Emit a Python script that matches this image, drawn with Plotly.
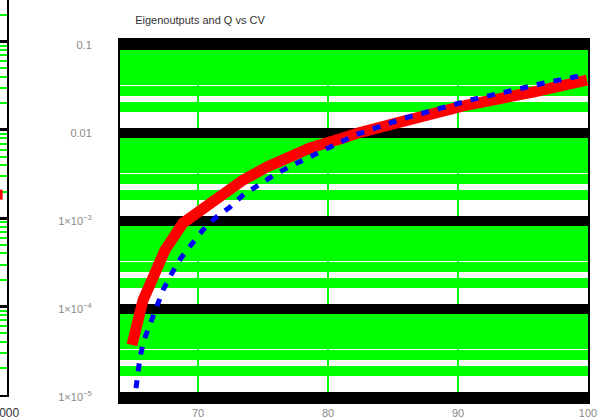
import plotly.graph_objects as go

# ---- data ----
red_x = [64.92, 65.77, 66.46, 67.46, 68.85, 70.15, 70.92, 73.46, 75.31, 76.85,
         78.62, 81.15, 82.31, 85.54, 90.69, 95.77, 99.92]
red_y = [3.9e-5, 1.26e-4, 2.14e-4, 4.68e-4, 9.5e-4, 1.33e-3, 1.64e-3, 2.92e-3,
         4.11e-3, 5.34e-3, 6.76e-3, 8.77e-3, 1.00e-2, 1.33e-2, 2.08e-2, 2.92e-2, 4.0e-2]

blue_x = [65.23, 65.54, 65.85, 66.31, 66.77, 67.31, 68.0, 68.69, 69.46, 70.38,
          71.31, 72.46, 73.46, 74.62, 75.85, 77.0, 78.31, 79.54, 80.77, 82.08,
          85.92, 88.62, 91.23, 94.0, 96.62, 99.38]
blue_y = [1.26e-5, 2.85e-5, 4.45e-5, 6.9e-5, 1.05e-4, 1.64e-4, 2.57e-4, 3.8e-4,
          5.33e-4, 7.9e-4, 1.08e-3, 1.44e-3, 1.97e-3, 2.56e-3, 3.33e-3, 4.11e-3,
          5.07e-3, 6.24e-3, 7.69e-3, 9.49e-3, 1.48e-2, 1.92e-2, 2.43e-2, 3.0e-2,
          3.7e-2, 4.45e-2]

side_x = [0, 450]
side_y = [1.85e-3, 1.85e-3]

x_ticks = [70, 80, 90, 100]
x_ticktext = ["70", "80", "90", "100"]
y_ticks = [1e-1, 1e-2, 1e-3, 1e-4, 1e-5]
y_ticktext = ["0.1", "0.01", "1×10<sup>−3</sup>", "1×10<sup>−4</sup>", "1×10<sup>−5</sup>"]
side_x_ticks = [1000]
side_x_ticktext = ["1000"]
title_text = "Eigenoutputs and Q vs CV"

minor_vals = [m * 10 ** e for e in range(-6, 1) for m in range(2, 10)]

FONT = "Liberation Sans Narrow, Liberation Sans, Arial, sans-serif"

fig = go.Figure()
fig.add_trace(go.Scatter(x=red_x, y=red_y, mode="lines",
                         line=dict(color="#ff0000", width=11),
                         xaxis="x", yaxis="y", showlegend=False))
fig.add_trace(go.Scatter(x=blue_x, y=blue_y, mode="lines",
                         line=dict(color="#0000ff", width=5, dash="8px,9px"),
                         xaxis="x", yaxis="y", showlegend=False))
fig.add_trace(go.Scatter(x=side_x, y=side_y, mode="lines",
                         line=dict(color="#ff0000", width=10),
                         xaxis="x2", yaxis="y2", showlegend=False))

fig.update_layout(
    width=602, height=420,
    margin=dict(l=0, r=14, t=0, b=18),
    paper_bgcolor="white", plot_bgcolor="white",
    showlegend=False,
    title=dict(text=title_text, x=200 / 602, xanchor="center",
               y=1 - 20 / 420, yanchor="middle",
               font=dict(family=FONT, size=11, color="#333333")),
    xaxis=dict(domain=[120 / 588, 1], range=[64, 100], anchor="y",
               tickmode="array", tickvals=x_ticks, ticktext=x_ticktext,
               showgrid=True, gridcolor="#00ff00", gridwidth=2,
               showline=True, linecolor="black", linewidth=2, mirror=True,
               zeroline=False, ticks="", automargin=False,
               tickfont=dict(family=FONT, size=11, color="#888888")),
    yaxis=dict(domain=[0, 1 - 40 / 402], type="log",
               range=[-1 + 5 / 88 - 362 / 88, -1 + 5 / 88], anchor="x",
               tickmode="array", tickvals=y_ticks, ticktext=y_ticktext,
               showgrid=True, gridcolor="black", gridwidth=10,
               minor=dict(tickmode="array", tickvals=minor_vals, showgrid=True,
                          gridcolor="#00ff00", gridwidth=10, ticks=""),
               showline=True, linecolor="black", linewidth=2, mirror=True,
               zeroline=False, ticks="", automargin=False,
               ticklabelstandoff=24,
               tickfont=dict(family=FONT, size=11, color="#888888")),
    xaxis2=dict(domain=[0, 7 / 588], range=[0, 1200], anchor="y2",
                tickmode="array", tickvals=side_x_ticks, ticktext=side_x_ticktext,
                showgrid=False, showline=True, linecolor="black", linewidth=2,
                zeroline=False, ticks="", automargin=False,
                ticklabelstandoff=6, ticklabeloverflow="allow",
                tickfont=dict(family=FONT, size=12, color="#333333")),
    yaxis2=dict(domain=[7 / 402, 1], type="log",
                range=[-1 + 41.5 / 88.4 - 395 / 88.4, -1 + 41.5 / 88.4], anchor="x2",
                side="right", showticklabels=False,
                tickmode="array", tickvals=y_ticks,
                showgrid=True, gridcolor="black", gridwidth=2.5,
                minor=dict(tickmode="array", tickvals=minor_vals, showgrid=True,
                           gridcolor="#00ff00", gridwidth=2, ticks=""),
                showline=True, linecolor="black", linewidth=2,
                zeroline=False, ticks="", automargin=False),
)

fig.write_html("out.html",
               config={"displayModeBar": False},
               post_script="document.body.style.margin='0';document.body.style.overflow='hidden';")
